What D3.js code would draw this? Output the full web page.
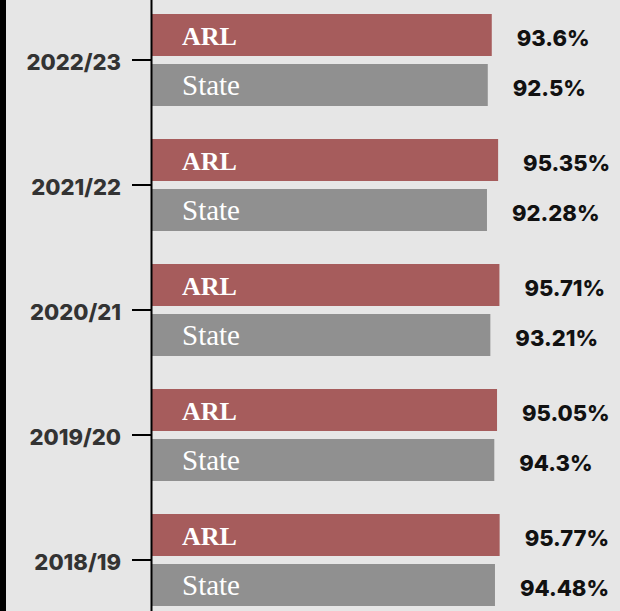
<!DOCTYPE html>
<html>
<head>
<meta charset="utf-8">
<script src="https://cdn.jsdelivr.net/npm/d3@7"></script>
<style>
  html, body { margin: 0; padding: 0; background: #e6e6e6; }
  svg { display: block; }
</style>
</head>
<body>
<script>
const years = ["2022/23", "2021/22", "2020/21", "2019/20", "2018/19"];
const seriesNames = ["ARL", "State"];
const arlValues = [93.6, 95.35, 95.71, 95.05, 95.77];
const stateValues = [92.5, 92.28, 93.21, 94.3, 94.48];
const arlLabels = ["93.6%", "95.35%", "95.71%", "95.05%", "95.77%"];
const stateLabels = ["92.5%", "92.28%", "93.21%", "94.3%", "94.48%"];

const W = 620, H = 611;
const colors = { ARL: "#a65c5c", State: "#909090" };

const rows = years.map((yr, i) => ({
  year: yr,
  items: [
    { key: "ARL", value: arlValues[i], label: arlLabels[i] },
    { key: "State", value: stateValues[i], label: stateLabels[i] }
  ]
}));

const svg = d3.select("body").append("svg").attr("width", W).attr("height", H);
svg.append("rect").attr("width", W).attr("height", H).attr("fill", "#e6e6e6");
svg.append("rect").attr("x", 0).attr("y", 0).attr("width", 6).attr("height", H).attr("fill", "#000");

const x = d3.scaleLinear().domain([0, 100]).range([152, 515]);
const y = d3.scaleBand().domain(years).range([-2.5, 622.5]).paddingInner(0.264).paddingOuter(0.132);
const ySub = d3.scaleBand().domain(seriesNames).range([0, y.bandwidth()]).paddingInner(0.16);

const groups = svg.selectAll("g.row").data(rows).join("g")
  .attr("class", "row")
  .attr("transform", d => `translate(0,${y(d.year)})`);

const items = groups.selectAll("g.item").data(d => d.items).join("g").attr("class", "item");

items.append("rect")
  .attr("x", x(0))
  .attr("y", d => ySub(d.key))
  .attr("width", d => x(d.value) - x(0))
  .attr("height", ySub.bandwidth())
  .attr("fill", d => colors[d.key]);

items.append("text")
  .attr("x", 182)
  .attr("y", d => ySub(d.key) + ySub.bandwidth() / 2 + 10)
  .attr("fill", "#fff")
  .attr("font-family", "'Liberation Serif', 'DejaVu Serif', serif")
  .attr("font-size", d => d.key === "ARL" ? 26 : 29)
  .attr("font-weight", d => d.key === "ARL" ? "bold" : "normal")
  .text(d => d.key);

items.append("text")
  .attr("x", d => x(d.value) + 25)
  .attr("y", d => ySub(d.key) + ySub.bandwidth() - 10)
  .attr("fill", "#111")
  .attr("font-family", "Inter, 'DejaVu Sans', sans-serif")
  .attr("font-size", 22)
  .attr("font-weight", 800)
  .text(d => d.label);

const axis = d3.axisLeft(y).tickSize(19).tickSizeOuter(0).tickPadding(11);
const gAxis = svg.append("g").attr("transform", "translate(151,0)").call(axis);
gAxis.select(".domain").attr("stroke", "#000").attr("stroke-width", 2);
gAxis.selectAll(".tick line").attr("stroke", "#000").attr("stroke-width", 2);
gAxis.selectAll(".tick text")
  .attr("fill", "#333")
  .attr("dy", "0.45em")
  .attr("font-family", "Inter, 'DejaVu Sans', sans-serif")
  .attr("font-size", 22)
  .attr("font-weight", 800);
</script>
</body>
</html>
